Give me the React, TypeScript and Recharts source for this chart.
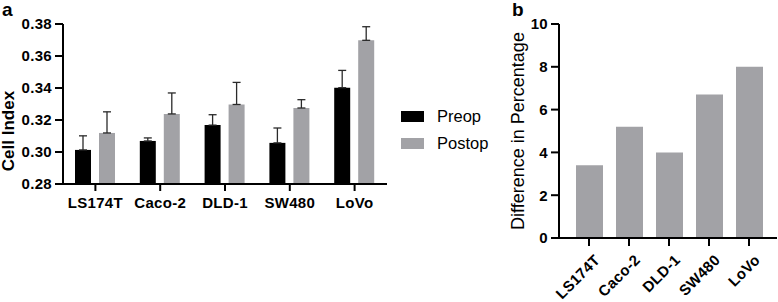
import React from 'react';
import { BarChart, Bar, XAxis, YAxis, ErrorBar, Legend } from 'recharts';

const cellLines = ['LS174T', 'Caco-2', 'DLD-1', 'SW480', 'LoVo'];
const preop = [0.3013, 0.3069, 0.3168, 0.3057, 0.3402];
const preopErr = [0.0088, 0.0019, 0.0065, 0.0093, 0.0108];
const postop = [0.3119, 0.3238, 0.3297, 0.3275, 0.3698];
const postopErr = [0.0132, 0.0131, 0.0138, 0.0052, 0.0085];
const diffPct = [3.4, 5.2, 4.0, 6.7, 8.0];

const cellTicks = [0.28, 0.3, 0.32, 0.34, 0.36, 0.38];
const diffTicks = [0, 2, 4, 6, 8, 10];

const FONT = '"Liberation Sans", Arial, sans-serif';
const GRAY = '#a2a2a6';

const cellData = cellLines.map((name, i) => ({
  name,
  preop: preop[i],
  preopErr: [0, preopErr[i]],
  postop: postop[i],
  postopErr: [0, postopErr[i]],
}));

const diffData = cellLines.map((name, i) => ({ name, diff: diffPct[i] }));

const tickStyle = { fill: '#000', fontSize: 15, fontWeight: 700, fontFamily: FONT, letterSpacing: 0.3 };

const LegendBox = () => (
  <div style={{ fontFamily: FONT, fontSize: 16.5, color: '#000' }}>
    {[
      { label: 'Preop', color: '#000' },
      { label: 'Postop', color: GRAY },
    ].map((item) => (
      <div key={item.label} style={{ display: 'flex', alignItems: 'center', height: 27 }}>
        <span style={{ display: 'inline-block', width: 23, height: 11, background: item.color, marginRight: 13 }} />
        <span>{item.label}</span>
      </div>
    ))}
  </div>
);

// rotated category labels for panel b
const AngledTick = (props: any) => {
  const { x, y, payload } = props;
  return (
    <g transform={`translate(${x + 12},${y + 15})`}>
      <text transform="rotate(-45)" textAnchor="end" fill="#000" fontSize={15} fontWeight={700} fontFamily={FONT} letterSpacing={0.3}>
        {payload.value}
      </text>
    </g>
  );
};

export default function App() {
  return (
    <div style={{ position: 'absolute', left: 0, top: 0, width: 778, height: 302, background: '#fff', fontFamily: FONT }}>
      <div style={{ position: 'absolute', left: 2, top: 0, fontSize: 19, fontWeight: 700, lineHeight: '19px' }}>a</div>
      <div style={{ position: 'absolute', left: 512, top: 0, fontSize: 19, fontWeight: 700, lineHeight: '19px' }}>b</div>

      <div
        style={{
          position: 'absolute', left: 9, top: 131, transform: 'translate(-50%, -50%) rotate(-90deg)',
          fontSize: 17, fontWeight: 700, whiteSpace: 'nowrap',
        }}
      >
        Cell Index
      </div>
      <div
        style={{
          position: 'absolute', left: 518, top: 131, transform: 'translate(-50%, -50%) rotate(-90deg)',
          fontSize: 18, whiteSpace: 'nowrap',
        }}
      >
        Difference in Percentage
      </div>

      <div style={{ position: 'absolute', left: 0, top: 0 }}>
        <BarChart width={500} height={302} data={cellData} margin={{ top: 24, right: 113, bottom: 0, left: 0 }} barGap={8}>
          <XAxis
            dataKey="name"
            height={64}
            stroke="#000"
            strokeWidth={2}
            tickSize={7}
            tickMargin={6}
            tick={tickStyle}
            tickLine={{ stroke: '#000', strokeWidth: 2 }}
            interval={0}
          />
          <YAxis
            width={63}
            domain={[0.28, 0.38]}
            ticks={cellTicks}
            allowDataOverflow
            stroke="#000"
            strokeWidth={2}
            tickSize={8}
            tickMargin={3}
            tick={tickStyle}
            tickLine={{ stroke: '#000', strokeWidth: 2 }}
            tickFormatter={(v: number) => v.toFixed(2)}
          />
          <Legend
            content={<LegendBox />}
            wrapperStyle={{ position: 'absolute', left: 401, top: 103, width: 100 }}
          />
          <Bar dataKey="preop" name="Preop" fill="#000" barSize={16} isAnimationActive={false}>
            <ErrorBar dataKey="preopErr" width={4} stroke="#2a2a2a" strokeWidth={1.3} direction="y" />
          </Bar>
          <Bar dataKey="postop" name="Postop" fill={GRAY} barSize={16} isAnimationActive={false}>
            <ErrorBar dataKey="postopErr" width={4} stroke="#2a2a2a" strokeWidth={1.3} direction="y" />
          </Bar>
        </BarChart>
      </div>

      <div style={{ position: 'absolute', left: 490, top: 0 }}>
        <BarChart width={288} height={302} data={diffData} margin={{ top: 24, right: 1, bottom: 0, left: 0 }}>
          <XAxis
            dataKey="name"
            height={64}
            stroke="#000"
            strokeWidth={2}
            tickSize={8}
            tickMargin={0}
            tick={<AngledTick />}
            tickLine={{ stroke: '#000', strokeWidth: 2 }}
            interval={0}
            padding={{ left: 10, right: 8 }}
          />
          <YAxis
            width={69}
            domain={[0, 10]}
            ticks={diffTicks}
            stroke="#000"
            strokeWidth={2}
            tickSize={8}
            tickMargin={3}
            tick={tickStyle}
            tickLine={{ stroke: '#000', strokeWidth: 2 }}
          />
          <Bar dataKey="diff" fill={GRAY} barSize={27} isAnimationActive={false} />
        </BarChart>
      </div>
    </div>
  );
}
